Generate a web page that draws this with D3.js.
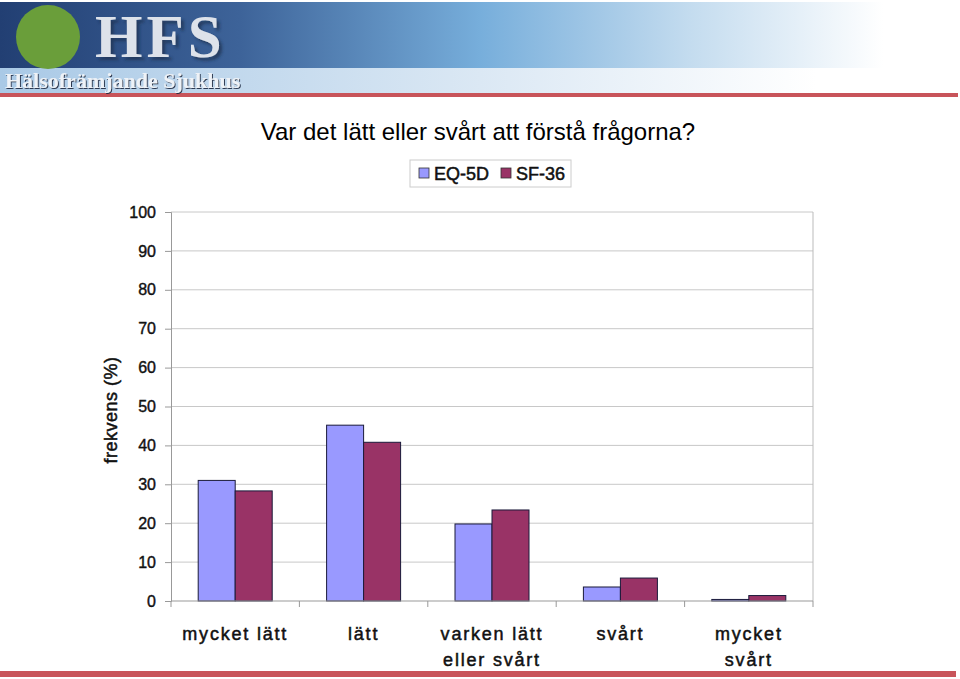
<!DOCTYPE html>
<html><head><meta charset="utf-8">
<script src="https://cdn.jsdelivr.net/npm/d3@7"></script>
<style>body{margin:0;background:#fff}svg{display:block}</style>
</head><body>
<script>
const categories = ["mycket lätt", "lätt", "varken lätt eller svårt", "svårt", "mycket svårt"];
const categoryLines = [["mycket lätt"], ["lätt"], ["varken lätt", "eller svårt"], ["svårt"], ["mycket", "svårt"]];
const seriesNames = ["EQ-5D", "SF-36"];
const eq5d = [31.0, 45.2, 19.8, 3.6, 0.4];
const sf36 = [28.3, 40.8, 23.4, 5.9, 1.4];
const yTicks = [0, 10, 20, 30, 40, 50, 60, 70, 80, 90, 100];
const colors = ["#9999ff", "#993366"];

(function () {
const W = 960, H = 679;
const FONT = "Liberation Sans, Arial, sans-serif";
const svg = d3.select("body").append("svg").attr("width", W).attr("height", H);
const defs = svg.append("defs");

// header banner
const g1 = defs.append("linearGradient").attr("id", "topg").attr("x1", 0).attr("x2", 1).attr("y1", 0).attr("y2", 0);
g1.append("stop").attr("offset", "0").attr("stop-color", "#223f73");
g1.append("stop").attr("offset", "0.25").attr("stop-color", "#3d6399");
g1.append("stop").attr("offset", "0.5").attr("stop-color", "#77aedb");
g1.append("stop").attr("offset", "0.72").attr("stop-color", "#c4dcef");
g1.append("stop").attr("offset", "0.92").attr("stop-color", "#ffffff");
const g2 = defs.append("linearGradient").attr("id", "botg").attr("x1", 0).attr("x2", 1).attr("y1", 0).attr("y2", 0);
g2.append("stop").attr("offset", "0").attr("stop-color", "#a9c9e6");
g2.append("stop").attr("offset", "0.5").attr("stop-color", "#dbe8f4");
g2.append("stop").attr("offset", "0.85").attr("stop-color", "#ffffff");
const f1 = defs.append("filter").attr("id", "sh1").attr("x", "-10%").attr("y", "-10%").attr("width", "130%").attr("height", "130%");
f1.append("feDropShadow").attr("dx", 3).attr("dy", 3).attr("stdDeviation", 1.5).attr("flood-color", "#1c2d4c").attr("flood-opacity", 0.7);
const f2 = defs.append("filter").attr("id", "sh2").attr("x", "-5%").attr("y", "-20%").attr("width", "115%").attr("height", "150%");
f2.append("feDropShadow").attr("dx", 1).attr("dy", 1).attr("stdDeviation", 0.6).attr("flood-color", "#1f2a40").attr("flood-opacity", 0.9);

svg.append("rect").attr("x", 0).attr("y", 2).attr("width", W).attr("height", 66).attr("fill", "url(#topg)");
svg.append("rect").attr("x", 0).attr("y", 68).attr("width", W).attr("height", 25).attr("fill", "url(#botg)");
svg.append("rect").attr("x", 0).attr("y", 93).attr("width", 958).attr("height", 4).attr("fill", "#c8545a");
svg.append("circle").attr("cx", 48).attr("cy", 37).attr("r", 32).attr("fill", "#6a9e3a");
svg.append("text").attr("x", 95).attr("y", 57).attr("font-family", "Liberation Serif, serif").attr("font-weight", "bold")
  .attr("font-size", 61).attr("letter-spacing", 4).attr("fill", "#dde2ea").attr("filter", "url(#sh1)").text("HFS");
svg.append("text").attr("x", 5).attr("y", 88).attr("font-family", "Liberation Serif, serif").attr("font-weight", "bold")
  .attr("font-size", 22).attr("fill", "#eef2f7").attr("filter", "url(#sh2)").text("Hälsofrämjande Sjukhus");

// bottom bar
svg.append("rect").attr("x", 0).attr("y", 671).attr("width", 956).attr("height", 6).attr("fill", "#c8545a");

// title
svg.append("text").attr("x", 478).attr("y", 140).attr("text-anchor", "middle")
  .attr("font-family", FONT).attr("font-size", 24).attr("fill", "#000")
  .text("Var det lätt eller svårt att förstå frågorna?");

// plot
const pL = 171, pR = 813, pT = 212, pB = 601;
const x = d3.scaleBand().domain(categories).range([pL, pR]);
const xs = d3.scaleBand().domain(seriesNames).range([0, 74]);
const y = d3.scaleLinear().domain([0, 100]).range([pB, pT]);

svg.append("g").selectAll("line").data(yTicks.filter(t => t > 0)).join("line")
  .attr("x1", pL).attr("x2", pR).attr("y1", d => y(d)).attr("y2", d => y(d))
  .attr("stroke", "#c8c8c8").attr("stroke-width", 1);
svg.append("line").attr("x1", pR).attr("x2", pR).attr("y1", pT).attr("y2", pB).attr("stroke", "#bbb");

const yAxis = svg.append("g").attr("transform", `translate(${pL},0)`)
  .call(d3.axisLeft(y).tickValues(yTicks).tickSize(6).tickPadding(9));
yAxis.select(".domain").attr("stroke", "#999");
yAxis.selectAll(".tick line").attr("stroke", "#999");
yAxis.selectAll("text").attr("font-family", FONT).attr("font-size", 16)
  .attr("fill", "#111").attr("stroke", "#111").attr("stroke-width", 0.4);

const series = [eq5d, sf36];
const groups = svg.append("g").selectAll("g").data(categories).join("g")
  .attr("transform", d => `translate(${x(d) + (x.bandwidth() - 74) / 2},0)`);
groups.selectAll("rect").data((d, i) => seriesNames.map((s, j) => ({ s, v: series[j][i], j }))).join("rect")
  .attr("x", d => xs(d.s)).attr("width", xs.bandwidth())
  .attr("y", d => y(d.v)).attr("height", d => y(0) - y(d.v))
  .attr("fill", d => colors[d.j]).attr("stroke", "#1a1a3a").attr("stroke-width", 1);

// x axis
svg.append("line").attr("x1", pL).attr("x2", pR).attr("y1", pB).attr("y2", pB).attr("stroke", "#999");
const bounds = categories.map(c => x(c)).concat([pR]);
svg.append("g").selectAll("line").data(bounds).join("line")
  .attr("x1", d => d).attr("x2", d => d).attr("y1", pB).attr("y2", pB + 6).attr("stroke", "#999");

svg.append("g").selectAll("text").data(categories).join("text")
  .attr("x", d => x(d) + x.bandwidth() / 2).attr("y", 640).attr("text-anchor", "middle")
  .attr("font-family", FONT).attr("font-size", 18).attr("letter-spacing", 1.8)
  .attr("fill", "#111").attr("stroke", "#111").attr("stroke-width", 0.5)
  .each(function (d, i) {
    d3.select(this).selectAll("tspan").data(categoryLines[i]).join("tspan")
      .attr("x", x(d) + x.bandwidth() / 2).attr("dy", (t, k) => k === 0 ? 0 : 26).text(t => t);
  });

// y title
svg.append("text").attr("transform", "translate(117,410) rotate(-90)").attr("text-anchor", "middle")
  .attr("font-family", FONT).attr("font-size", 18).attr("letter-spacing", 0.5)
  .attr("fill", "#111").attr("stroke", "#111").attr("stroke-width", 0.5)
  .text("frekvens (%)");

// legend
const lg = svg.append("g");
lg.append("rect").attr("x", 410).attr("y", 160).attr("width", 161).attr("height", 27).attr("fill", "#fff").attr("stroke", "#ccc");
const litems = [{ x: 419, tx: 434 }, { x: 501, tx: 516 }];
lg.selectAll("rect.sw").data(seriesNames).join("rect").attr("class", "sw")
  .attr("x", (d, i) => litems[i].x).attr("y", 168).attr("width", 10).attr("height", 10)
  .attr("fill", (d, i) => colors[i]).attr("stroke", "#333").attr("stroke-width", 0.8);
lg.selectAll("text").data(seriesNames).join("text")
  .attr("x", (d, i) => litems[i].tx).attr("y", 180)
  .attr("font-family", FONT).attr("font-size", 18)
  .attr("fill", "#111").attr("stroke", "#111").attr("stroke-width", 0.5)
  .text(d => d);
})();
</script>
</body></html>
